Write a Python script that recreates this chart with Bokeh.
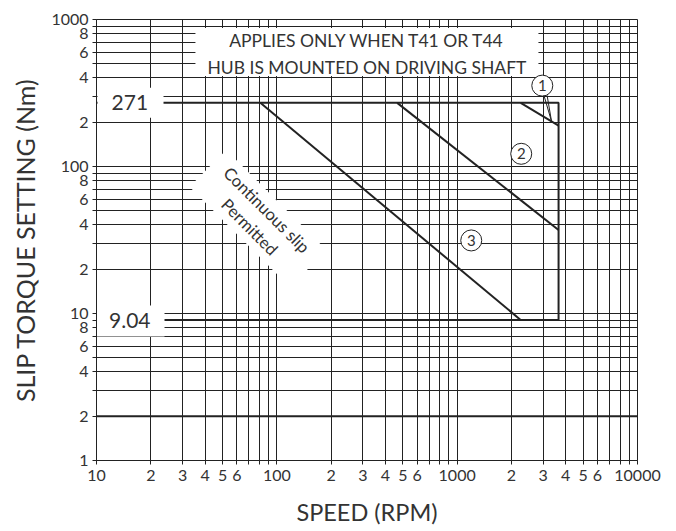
import math
from bokeh.plotting import figure
from bokeh.models import FixedTicker
from bokeh.core.properties import value
from bokeh.embed import file_html
from bokeh.resources import INLINE

FONT = "Lato"
INK = "#222222"

# ---------------- data ----------------
speed_ticks = [10, 20, 30, 40, 50, 60, 70, 80, 90,
               100, 200, 300, 400, 500, 600, 700, 800, 900,
               1000, 2000, 3000, 4000, 5000, 6000, 7000, 8000, 9000, 10000]
speed_tick_labels = ["10", "2", "3", "4", "5", "6", "", "", "",
                     "100", "2", "3", "4", "5", "6", "", "", "",
                     "1000", "2", "3", "4", "5", "6", "", "", "",
                     "10000"]
torque_ticks = [1, 2, 3, 4, 5, 6, 7, 8, 9,
                10, 20, 30, 40, 50, 60, 70, 80, 90,
                100, 200, 300, 400, 500, 600, 700, 800, 900, 1000]
torque_tick_labels = ["1", "2", "", "4", "", "6", "", "8", "",
                      "10", "2", "", "4", "", "6", "", "8", "",
                      "100", "2", "", "4", "", "6", "", "8", "", "1000"]

# envelope (max / min slip torque, max speed)
torque_max = 271
torque_min = 9.04
speed_max = 3650
envelope_speed = [10, speed_max, speed_max, 10]
envelope_torque = [torque_max, torque_max, torque_min, torque_min]

# curves 1-3
curve1_speed = [2250, speed_max]
curve1_torque = [271, 190]
curve2_speed = [465, speed_max]
curve2_torque = [271, 37]
curve3_speed = [81, 2250]
curve3_torque = [271, 9.04]

# heavy reference line at 2 Nm
ref_speed = [10, 10000]
ref_torque = [2, 2]

# circled curve numbers
marker_speed = [2965, 2266, 1197]
marker_torque = [355, 122, 31.4]
marker_text = ["1", "2", "3"]

# leader from marker 1 to curve 1
leader_speed = [[3027, 3339], [3152, 3339]]
leader_torque = [[305, 202], [305, 202]]

# ---------------- figure ----------------
p = figure(width=668, height=528, x_axis_type="log", y_axis_type="log",
           x_range=(10, 10000), y_range=(1, 1000),
           output_backend="svg", toolbar_location=None,
           min_border_left=96, min_border_right=31,
           min_border_top=19, min_border_bottom=68)
p.outline_line_color = INK
p.outline_line_width = 1
p.background_fill_color = "white"
p.border_fill_color = "white"

p.xaxis.ticker = FixedTicker(ticks=speed_ticks, minor_ticks=[])
p.yaxis.ticker = FixedTicker(ticks=torque_ticks, minor_ticks=[])
p.xaxis.major_label_overrides = {t: l for t, l in zip(speed_ticks, speed_tick_labels)}
p.yaxis.major_label_overrides = {t: l for t, l in zip(torque_ticks, torque_tick_labels)}
p.xgrid.ticker = FixedTicker(ticks=speed_ticks)
p.ygrid.ticker = FixedTicker(ticks=torque_ticks)
for g in (p.xgrid, p.ygrid):
    g.grid_line_color = INK
    g.grid_line_width = 1
    g.grid_line_alpha = 1

for ax in (p.xaxis, p.yaxis):
    ax.axis_line_color = INK
    ax.axis_line_width = 1
    ax.major_tick_line_color = INK
    ax.major_tick_in = 0
    ax.major_tick_out = 4
    ax.major_label_text_font = FONT
    ax.major_label_text_font_size = "16px"
    ax.major_label_text_color = "#333333"
    ax.axis_label_text_font = FONT
    ax.axis_label_text_font_style = "normal"
    ax.axis_label_text_color = "#333333"

p.xaxis.axis_label = "SPEED (RPM)"
p.yaxis.axis_label = "SLIP TORQUE SETTING (Nm)"
p.xaxis.axis_label_text_font_size = "23.5px"
p.yaxis.axis_label_text_font_size = "25px"
p.xaxis.major_label_standoff = 5
p.xaxis.axis_label_standoff = 14
p.yaxis.major_label_standoff = 4
p.yaxis.axis_label_standoff = 8

# heavy lines
p.line(ref_speed, ref_torque, line_color=INK, line_width=2)
p.line(envelope_speed, envelope_torque, line_color=INK, line_width=2)
p.line(curve1_speed, curve1_torque, line_color=INK, line_width=2)
p.line(curve2_speed, curve2_torque, line_color=INK, line_width=2)
p.line(curve3_speed, curve3_torque, line_color=INK, line_width=2)
p.multi_line(leader_speed, leader_torque, line_color=INK, line_width=1)

# white label boxes
p.rect(x=[15.44, 15.44], y=[torque_max, 8.9], width=[66, 68], height=[30, 31],
       width_units="screen", height_units="screen",
       fill_color="white", line_color=None)
p.text(x=[15.3, 15.3], y=[torque_max, 8.9], text=["271", "9.04"],
       text_font=value(FONT), text_font_size="21px", text_color="#333333",
       text_align="center", text_baseline="middle")

# applies-only box
p.rect(x=[316], y=[601], width=[343], height=[48],
       width_units="screen", height_units="screen",
       fill_color="white", line_color=None)
p.text(x=[316], y=[582], text=["APPLIES ONLY WHEN T41 OR T44\nHUB IS MOUNTED ON DRIVING SHAFT"],
       text_font=value(FONT), text_font_size="17.5px", text_color="#333333",
       text_align="center", text_baseline="middle", text_line_height=1.26)

# continuous slip note
ang = -math.pi / 4
p.rect(x=[78.7], y=[44.3], width=[142], height=[52], angle=ang,
       width_units="screen", height_units="screen",
       fill_color="white", line_color=None)
p.text(x=[78.7], y=[44.3], text=["Continuous slip\nPermitted"], angle=ang,
       text_font=value(FONT), text_font_size="16.7px", text_color="#333333",
       text_align="center", text_baseline="middle", text_line_height=1.2)

# circled numbers
p.scatter(marker_speed, marker_torque, marker="circle", size=21,
          fill_color="white", line_color=INK, line_width=1)
p.text(marker_speed, marker_torque, text=marker_text,
       text_font=value(FONT), text_font_size="15px", text_color="#333333",
       text_align="center", text_baseline="middle")

open("out.html", "w").write(file_html(p, INLINE))
